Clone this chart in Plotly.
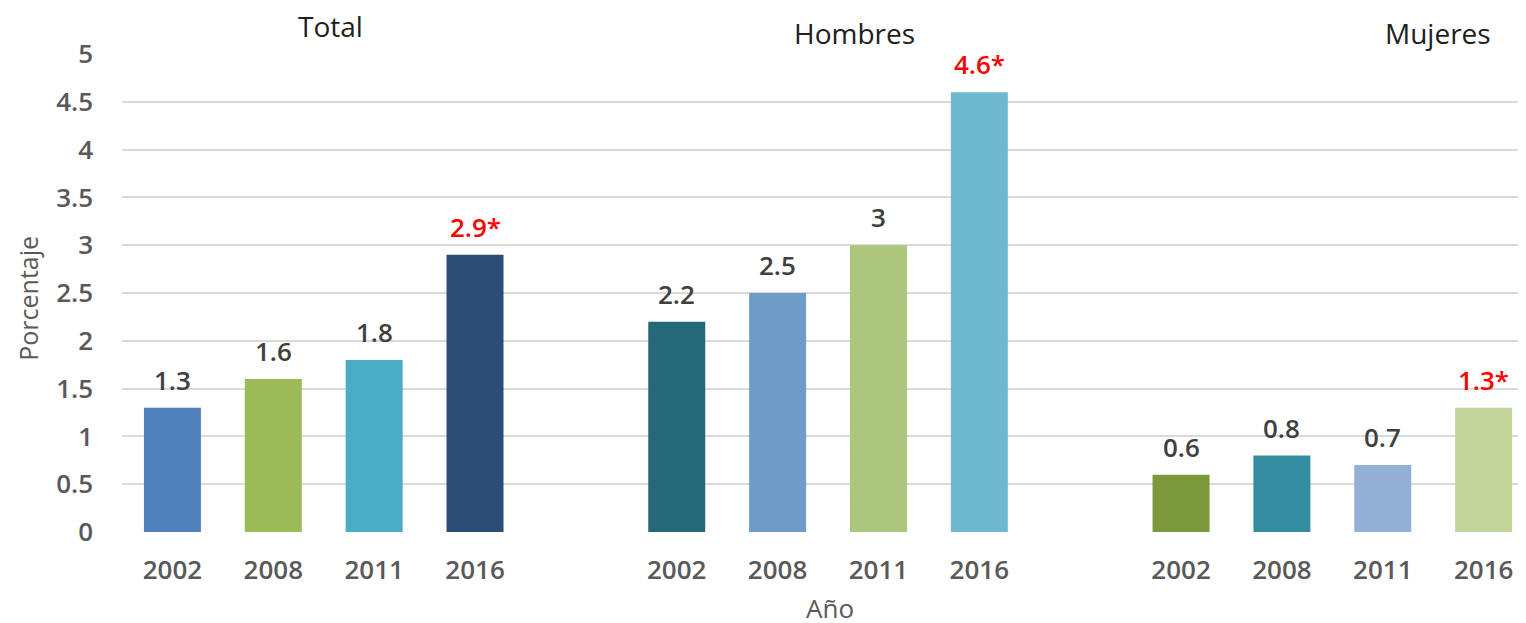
import plotly.graph_objects as go

years = ["2002", "2008", "2011", "2016"]
groups = ["Total", "Hombres", "Mujeres"]
total = [1.3, 1.6, 1.8, 2.9]
hombres = [2.2, 2.5, 3.0, 4.6]
mujeres = [0.6, 0.8, 0.7, 1.3]
labels_total = ["1.3", "1.6", "1.8", "2.9*"]
labels_hombres = ["2.2", "2.5", "3", "4.6*"]
labels_mujeres = ["0.6", "0.8", "0.7", "1.3*"]

colors_total = ["#4F81BD", "#9BBB59", "#4BACC6", "#2C4D75"]
colors_hombres = ["#25687A", "#6E9BC8", "#ABC77B", "#6EB8CF"]
colors_mujeres = ["#7B993A", "#338C9F", "#93B0D6", "#C3D49B"]

series = [total, hombres, mujeres]
labels = [labels_total, labels_hombres, labels_mujeres]
colors = [colors_total, colors_hombres, colors_mujeres]

xs, ys, cs, tickvals, ticktext = [], [], [], [], []
for g in range(3):
    for i in range(4):
        pos = g * 5 + i
        xs.append(pos)
        ys.append(series[g][i])
        cs.append(colors[g][i])
        tickvals.append(pos)
        ticktext.append(years[i])

fig = go.Figure()
fig.add_trace(go.Bar(x=xs, y=ys, marker=dict(color=cs, line=dict(width=0)),
                     width=0.565, hoverinfo="skip"))

font_main = "Open Sans, Segoe UI, sans-serif"
annotations = []
for g in range(3):
    for i in range(4):
        star = labels[g][i].endswith("*")
        annotations.append(dict(
            x=g * 5 + i, y=series[g][i], xref="x", yref="y",
            text=labels[g][i], showarrow=False, yanchor="bottom", yshift=8,
            font=dict(family=font_main, size=26, color="#FF0000" if star else "#404040",
                      weight=600)))

title_pos = [(1.57, 1.0585), (6.76, 1.044), (12.55, 1.044)]
for g in range(3):
    annotations.append(dict(
        x=title_pos[g][0], y=title_pos[g][1], xref="x", yref="paper",
        text=groups[g], showarrow=False, yanchor="middle", xanchor="center",
        font=dict(family=font_main, size=28, color="#202020")))

annotations.append(dict(x=-0.067, y=0.49, xref="paper", yref="paper",
                        text="Porcentaje", textangle=-90, showarrow=False,
                        xanchor="center", yanchor="middle",
                        font=dict(family=font_main, size=25, color="#595959")))
annotations.append(dict(x=0.504, y=-0.158, xref="paper", yref="paper",
                        text="Año", showarrow=False, yanchor="middle", xanchor="center",
                        font=dict(family=font_main, size=26, color="#595959")))

fig.update_layout(
    width=1518, height=615,
    margin=dict(l=114, r=0, t=46, b=91, autoexpand=False),
    paper_bgcolor="white", plot_bgcolor="white",
    showlegend=False,
    annotations=annotations,
    xaxis=dict(range=[-0.5, 13.42], tickvals=tickvals, ticktext=ticktext,
               showgrid=False, zeroline=False, showline=False, ticks="",
               ticklabelstandoff=20,
               tickfont=dict(family=font_main, size=26, color="#595959", weight=600)),
    yaxis=dict(range=[0, 5], dtick=0.5, showgrid=True, gridcolor="#D9D9D9", gridwidth=2,
               zeroline=False, showline=False, ticks="", ticklabelstandoff=28,
               tickformat="~g",
               tickfont=dict(family=font_main, size=26, color="#595959", weight=600)),
)
fig.write_html("out.html")
